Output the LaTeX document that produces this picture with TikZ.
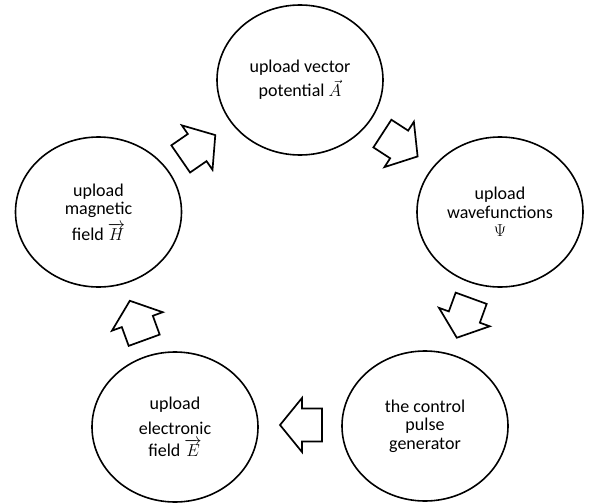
\documentclass[tikz,border=0pt]{standalone}
\usepackage{fontspec}
\setmainfont{Carlito}
\usetikzlibrary{shapes.geometric}
\tikzset{
  bubble/.style={draw, line width=1.6pt, ellipse, minimum width=166pt,
    minimum height=150pt, inner sep=0pt, align=center,
    font=\fontsize{18}{18.5}\selectfont},
  pics/fatarrow/.style={code={
    \draw[line width=1.7pt, line join=miter]
      (-21,-16.5) -- (-1,-16.5) -- (-1,-27) -- (21,0) -- (-1,27)
      -- (-1,16.5) -- (-21,16.5) -- cycle;}}
}
\begin{document}
\begin{tikzpicture}[x=1pt,y=-1pt]
  \useasboundingbox (0,0) rectangle (589,503);

  % the five stages of the cycle
  \node[bubble, font=\fontsize{18}{21.7}\selectfont] (top) at (300,80)
    {upload vector\\[2pt]potential $\vec{A}$};
  \node[bubble] (right) at (500,212)
    {upload\\wavefunctions\\$\Psi$};
  \node[bubble] (botR) at (425,426)
    {the control\\pulse\\generator};
  \node[bubble] (botL) at (175,427)
    {upload\\[6pt]electronic\\[4pt]field $\overrightarrow{E}$};
  \node[bubble] (left) at (98.5,212)
    {upload\\magnetic\\[4pt]field $\overrightarrow{H}$};

  % block arrows running clockwise between the stages
  \pic[rotate=34.6] at (198,147) {fatarrow};
  \pic[rotate=-33] at (400,145) {fatarrow};
  \pic[rotate=-110] at (464,318) {fatarrow};
  \pic[rotate=180] at (301,425) {fatarrow};
  \pic[rotate=110] at (137,320.5) {fatarrow};
\end{tikzpicture}
\end{document}
